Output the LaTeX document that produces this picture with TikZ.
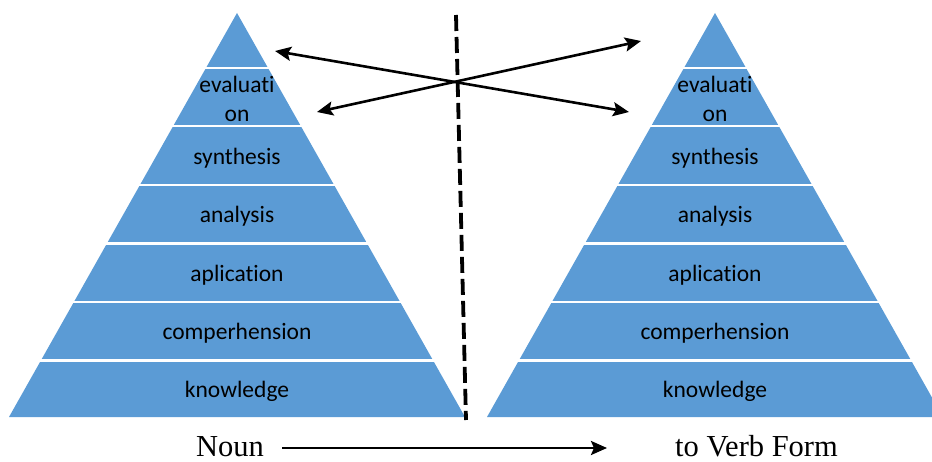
\documentclass[tikz,border=0pt]{standalone}
\usepackage{fontspec}
\setmainfont{Liberation Serif}
\newfontfamily\labelfont[Ligatures=NoCommon]{Carlito}
\usetikzlibrary{arrows.meta}
\definecolor{pyrblue}{HTML}{5B9BD5}
\tikzset{
  layerlabel/.style={font=\labelfont\fontsize{23.5}{29}\selectfont, text=black, align=center, inner sep=0pt},
  caption/.style={font=\fontsize{30.5}{34}\selectfont, inner sep=0pt, anchor=base},
  bigarrow/.style={line width=2.6pt, -{Stealth[length=16pt,width=14pt,inset=3pt]}},
  dblarrow/.style={line width=2.6pt, {Stealth[length=16pt,width=14pt,inset=3pt]}-{Stealth[length=16pt,width=14pt,inset=3pt]}},
  gapline/.style={white, line width=2.5pt},
  divider/.style={line width=3.8pt, dash pattern=on 16pt off 6pt}
}
\newcommand{\pyramid}[2]{%
  % #1 = apex x, #2 = name prefix
  \fill[pyrblue] (#1,13) -- (#1+228,417) -- (#1-228,417) -- cycle;
  \foreach \yy in {68,126,185,243.5,302,360.5}{
    \pgfmathsetmacro{\hw}{0.5644*(\yy-13)+4}
    \draw[gapline] (#1-\hw,\yy) -- (#1+\hw,\yy);
  }
  \node[layerlabel] (#2eval) at (#1,98.5) {evaluati\\on};
  \node[layerlabel] (#2syn) at (#1,158) {synthesis};
  \node[layerlabel] (#2ana) at (#1,216.5) {analysis};
  \node[layerlabel] (#2app) at (#1,275) {aplication};
  \node[layerlabel] (#2com) at (#1,333.5) {comperhension};
  \node[layerlabel] (#2kno) at (#1,391.5) {knowledge};
}
\begin{document}
\begin{tikzpicture}[x=1pt,y=-1pt]
  \useasboundingbox (0,0) rectangle (932,462);
  \clip (0,0) rectangle (932,462);
  \pyramid{237}{L}
  \pyramid{715}{R}
  \coordinate (dtop) at (456,15);
  \coordinate (dbot) at (466,420);
  \draw[divider] (dtop) -- (dbot);
  \coordinate (a1s) at (275,51);
  \coordinate (a1e) at (629,112);
  \coordinate (a2s) at (317,112);
  \coordinate (a2e) at (641,41);
  \draw[dblarrow] (a1s) -- (a1e);
  \draw[dblarrow] (a2s) -- (a2e);
  \node[caption] (noun) at (230,456) {Noun};
  \node[caption, anchor=base west] (verb) at (675,456) {to Verb Form};
  \coordinate (bs) at (282,448);
  \coordinate (be) at (607,448);
  \draw[bigarrow] (bs) -- (be);
\end{tikzpicture}
\end{document}
